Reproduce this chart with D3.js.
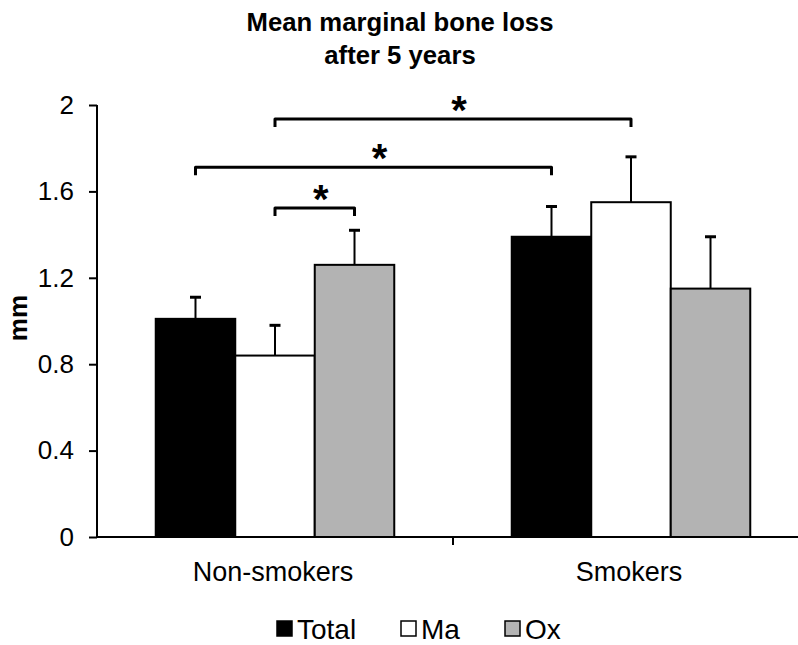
<!DOCTYPE html>
<html>
<head>
<meta charset="utf-8">
<script src="https://cdnjs.cloudflare.com/ajax/libs/d3/7.8.5/d3.min.js"></script>
<style>
  body { margin: 0; background: #fff; }
  text { font-family: "Liberation Sans", Arial, sans-serif; fill: #000; }
</style>
</head>
<body>
<script>
// chart values
const groups = ["Non-smokers", "Smokers"];
const series = ["Total", "Ma", "Ox"];
const means = [
  [1.01, 0.84, 1.26],   // Non-smokers
  [1.39, 1.55, 1.15]    // Smokers
];
const errors = [
  [0.10, 0.14, 0.16],
  [0.14, 0.21, 0.24]
];
const yTicks = [0, 0.4, 0.8, 1.2, 1.6, 2];
const colors = ["#000000", "#ffffff", "#b3b3b3"];
// significance brackets: [group, series] to [group, series], height in mm
const sigPairs = [
  { from: [0, 1], to: [1, 1], level: 1.935 },
  { from: [0, 0], to: [1, 0], level: 1.712 },
  { from: [0, 1], to: [0, 2], level: 1.523 }
];

const width = 798, height = 645;

const svg = d3.select("body").append("svg")
    .attr("width", width)
    .attr("height", height);

const plot = { left: 97, right: 809, top: 105, bottom: 537 };

const x0 = d3.scaleBand()
    .domain(groups)
    .range([plot.left, plot.right])
    .paddingInner(0.33)
    .paddingOuter(0.165);

const x1 = d3.scaleBand()
    .domain(series)
    .range([0, x0.bandwidth()]);

const y = d3.scaleLinear()
    .domain([0, 2])
    .range([plot.bottom, plot.top]);

// title
svg.append("text")
    .attr("x", 400).attr("y", 31)
    .attr("text-anchor", "middle")
    .style("font-size", "25.7px").style("font-weight", "bold")
    .text("Mean marginal bone loss");
svg.append("text")
    .attr("x", 400).attr("y", 64)
    .attr("text-anchor", "middle")
    .style("font-size", "25.7px").style("font-weight", "bold")
    .text("after 5 years");

// bars
const bars = [];
groups.forEach((g, i) => series.forEach((s, j) => bars.push({ g: g, s: s, j: j, v: means[i][j], e: errors[i][j] })));

const barG = svg.append("g");
barG.selectAll("rect")
    .data(bars)
    .enter()
    .append("rect")
    .attr("x", d => x0(d.g) + x1(d.s))
    .attr("y", d => y(d.v))
    .attr("width", x1.bandwidth())
    .attr("height", d => y(0) - y(d.v))
    .attr("fill", d => colors[d.j])
    .attr("stroke", "#000")
    .attr("stroke-width", 2);

// error bars (upper only)
const errG = svg.append("g").attr("stroke", "#000");
errG.selectAll("line.stem")
    .data(bars)
    .enter()
    .append("line")
    .attr("class", "stem")
    .attr("x1", d => x0(d.g) + x1(d.s) + x1.bandwidth() / 2)
    .attr("x2", d => x0(d.g) + x1(d.s) + x1.bandwidth() / 2)
    .attr("y1", d => y(d.v))
    .attr("y2", d => y(d.v + d.e))
    .attr("stroke-width", 2);
errG.selectAll("line.cap")
    .data(bars)
    .enter()
    .append("line")
    .attr("class", "cap")
    .attr("x1", d => x0(d.g) + x1(d.s) + x1.bandwidth() / 2 - 5.5)
    .attr("x2", d => x0(d.g) + x1(d.s) + x1.bandwidth() / 2 + 5.5)
    .attr("y1", d => y(d.v + d.e))
    .attr("y2", d => y(d.v + d.e))
    .attr("stroke-width", 3);

// y axis
const yAxis = svg.append("g")
    .attr("transform", "translate(" + plot.left + ",0)")
    .call(d3.axisLeft(y).tickValues(yTicks).tickSize(8).tickPadding(15).tickFormat(d3.format("")));
yAxis.select(".domain").attr("stroke-width", 2).attr("d", "M0," + plot.bottom + "V" + plot.top);
yAxis.selectAll(".tick line").attr("stroke-width", 2);
yAxis.selectAll(".tick text")
    .style("font-size", "26px")
    .style("font-family", "'Liberation Sans', Arial, sans-serif");

// y label
svg.append("text")
    .attr("transform", "translate(27,318) rotate(-90)")
    .attr("text-anchor", "middle")
    .style("font-size", "26px").style("font-weight", "bold")
    .text("mm");

// x axis
const xAxis = svg.append("g")
    .attr("transform", "translate(0," + plot.bottom + ")")
    .call(d3.axisBottom(x0).tickSize(0).tickPadding(25));
xAxis.select(".domain").attr("stroke-width", 2).attr("d", "M" + plot.left + ",0H" + plot.right);
xAxis.selectAll(".tick text")
    .attr("x", -2)
    .style("font-size", "27px")
    .style("font-family", "'Liberation Sans', Arial, sans-serif");
// boundary tick between categories
const step = x0.step();
xAxis.selectAll("line.sep")
    .data(groups.slice(1))
    .enter()
    .append("line")
    .attr("class", "sep")
    .attr("x1", d => x0(d) - step * x0.paddingInner() / 2)
    .attr("x2", d => x0(d) - step * x0.paddingInner() / 2)
    .attr("y1", 0).attr("y2", 8)
    .attr("stroke", "#000").attr("stroke-width", 2);

// significance brackets
const cx = (p) => x0(groups[p[0]]) + x1(series[p[1]]) + x1.bandwidth() / 2;
const sigG = svg.append("g");
sigG.selectAll("path")
    .data(sigPairs)
    .enter()
    .append("path")
    .attr("d", d => "M" + cx(d.from) + "," + (y(d.level) + 8) + "V" + y(d.level) + "H" + cx(d.to) + "V" + (y(d.level) + 8))
    .attr("fill", "none")
    .attr("stroke", "#000")
    .attr("stroke-width", 3)
    .attr("stroke-linejoin", "round");
sigG.selectAll("text")
    .data(sigPairs)
    .enter()
    .append("text")
    .attr("x", d => (cx(d.from) + cx(d.to)) / 2 + 6)
    .attr("y", d => y(d.level) + 5)
    .attr("text-anchor", "middle")
    .style("font-size", "40px").style("font-weight", "bold")
    .text("*");

// legend
const legend = svg.append("g")
    .selectAll("g")
    .data(series)
    .enter()
    .append("g")
    .attr("transform", (d, i) => "translate(" + [277, 401, 505][i] + ",621)");
legend.append("rect")
    .attr("width", 15).attr("height", 15)
    .attr("fill", (d, i) => colors[i])
    .attr("stroke", "#000").attr("stroke-width", 1.5);
legend.append("text")
    .attr("x", 20).attr("y", 18)
    .style("font-size", "28px")
    .text(d => d);
</script>
</body>
</html>
